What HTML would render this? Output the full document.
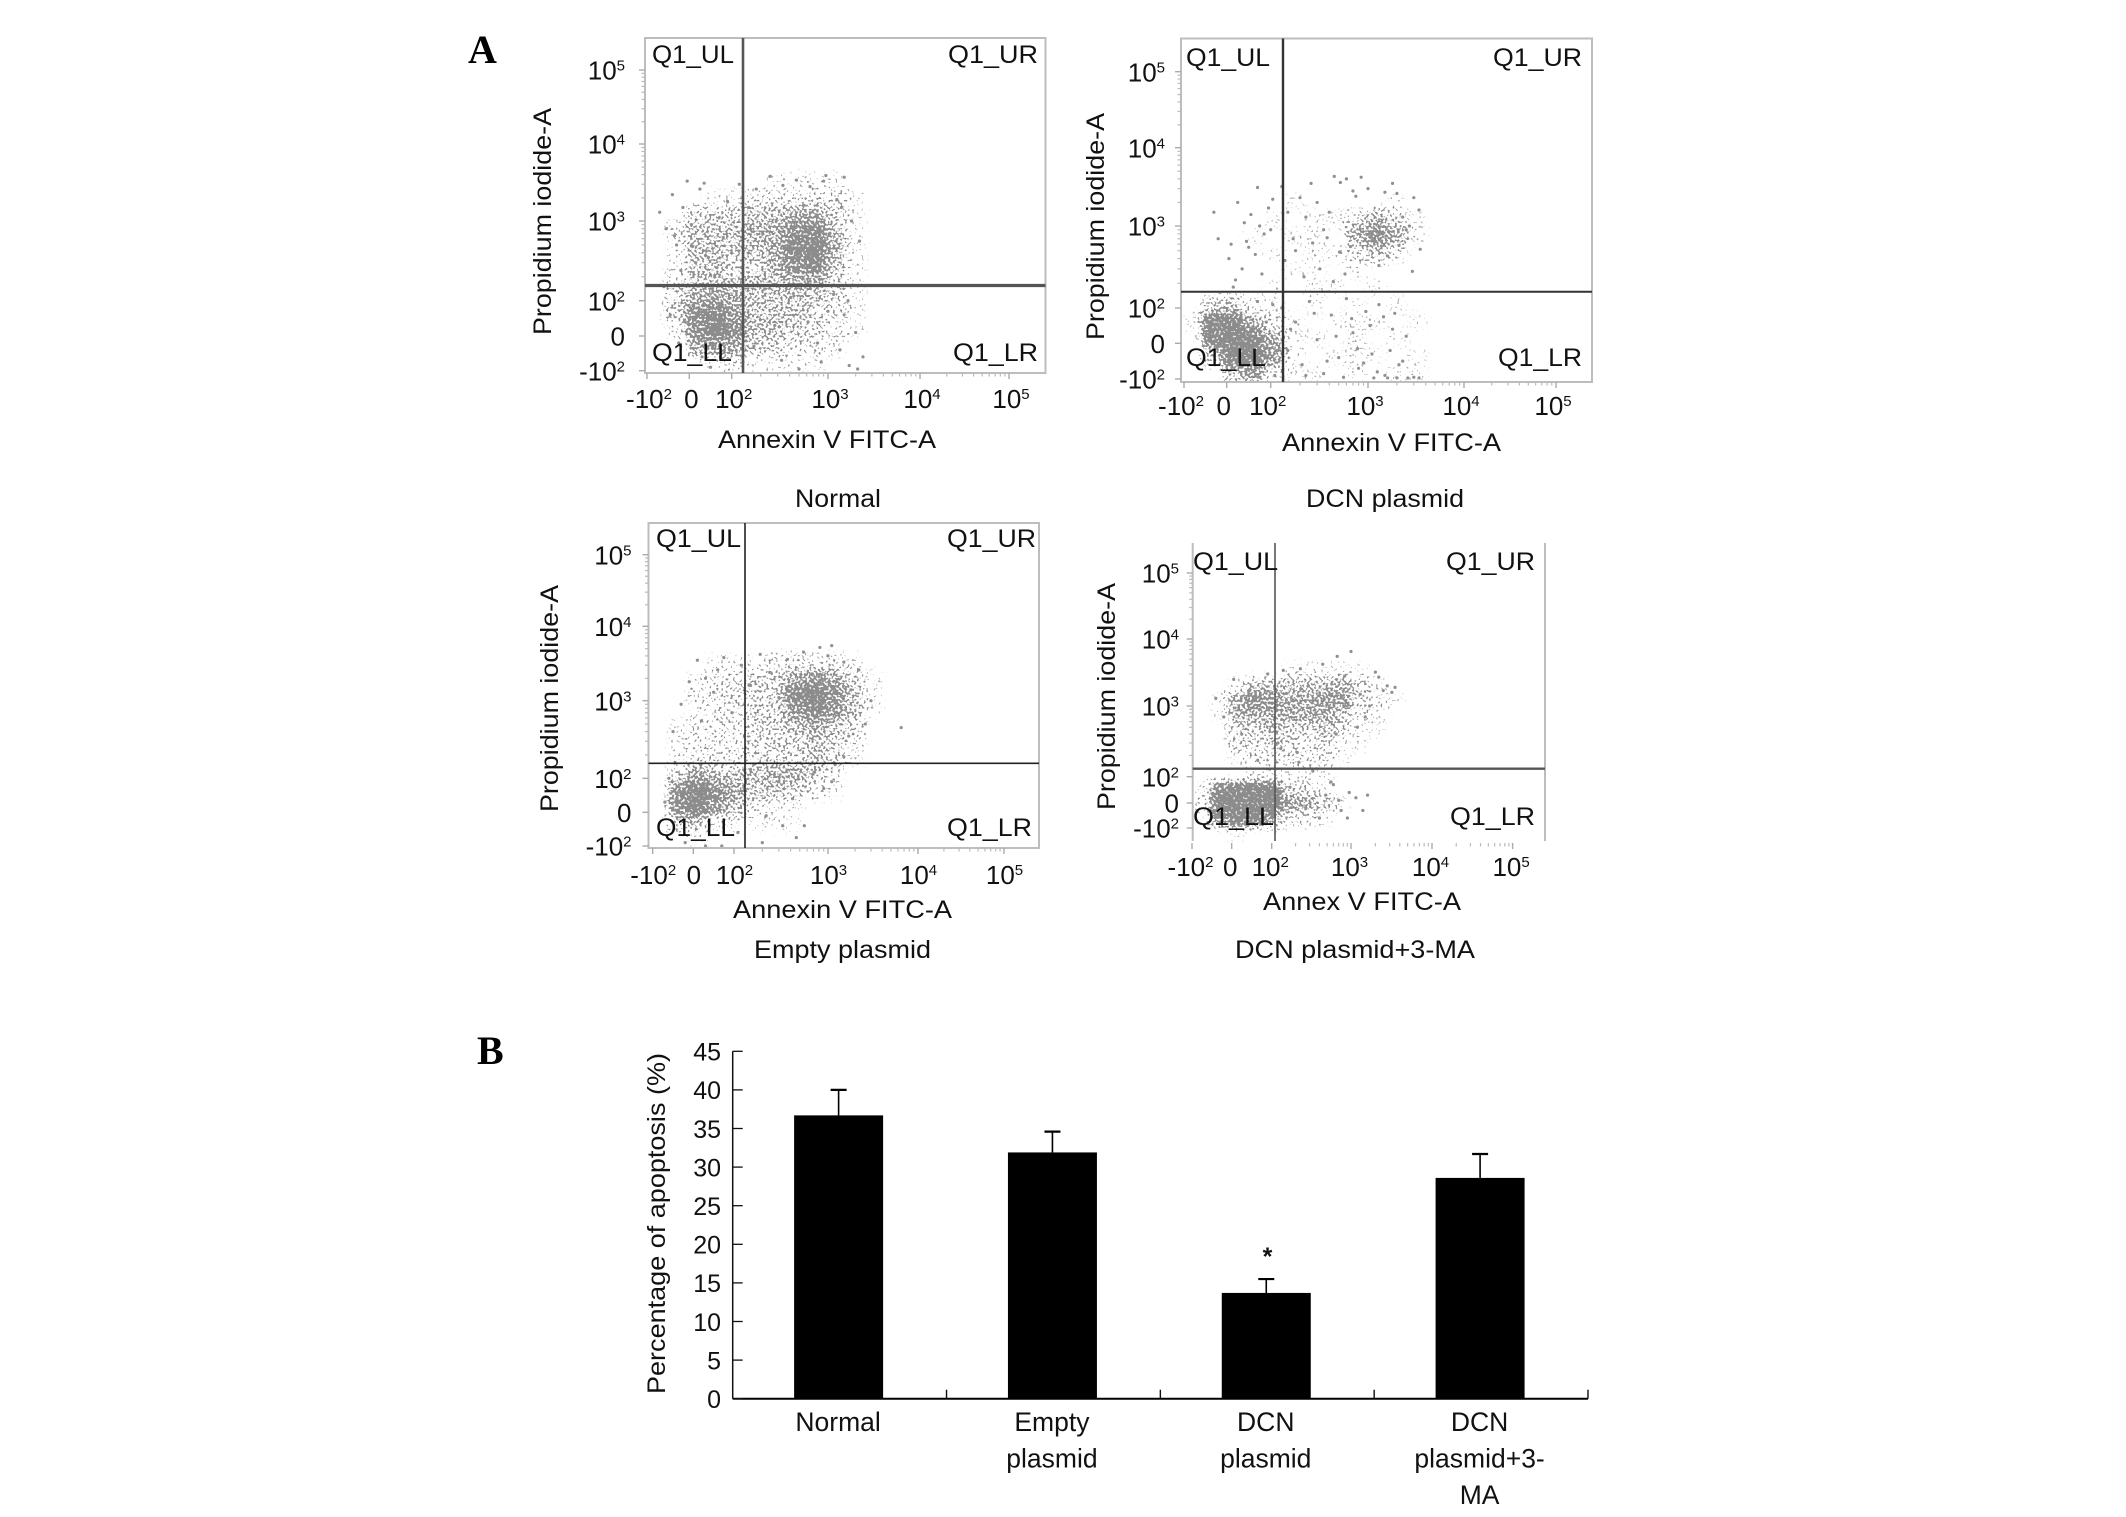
<!DOCTYPE html>
<html lang="en">
<head>
<meta charset="utf-8">
<title>Apoptosis flow cytometry and bar chart</title>
<style>
html,body{margin:0;padding:0;background:#fff;}
svg{display:block;}
text{font-family:"Liberation Sans",sans-serif;fill:#111;font-size:25px;}
.letter{font-family:"Liberation Serif",serif;font-weight:bold;font-size:40px;fill:#000;}
.heavy{font-weight:bold;}
</style>
</head>
<body>
<svg id="figure" xmlns="http://www.w3.org/2000/svg" width="2126" height="1517" viewBox="0 0 2126 1517">
<defs>
<filter id="soft" x="-5%" y="-5%" width="110%" height="110%" color-interpolation-filters="sRGB">
<feGaussianBlur in="SourceAlpha" stdDeviation="4.5" result="d"/>
<feTurbulence type="fractalNoise" baseFrequency="0.42" numOctaves="1" seed="7" result="t"/>
<feColorMatrix in="t" type="matrix" values="0 0 0 0 0  0 0 0 0 0  0 0 0 0 0  2.6 0 0 0 -0.8" result="n"/>
<feComposite in="d" in2="n" operator="arithmetic" k1="0" k2="5" k3="5" k4="-4.75" result="s"/>
<feFlood flood-color="#8c8c8c" result="f"/>
<feComposite in="f" in2="s" operator="in" result="dots"/>
<feComponentTransfer in="d" result="m"><feFuncA type="linear" slope="12"/></feComponentTransfer>
<feComposite in="dots" in2="m" operator="in"/>
</filter>
<clipPath id="clip-normal"><rect x="645" y="38" width="400" height="335"/></clipPath>
<clipPath id="clip-dcn"><rect x="1181" y="38" width="411" height="344"/></clipPath>
<clipPath id="clip-empty"><rect x="648" y="523" width="391" height="325"/></clipPath>
<clipPath id="clip-ma"><rect x="1193" y="543" width="352" height="299"/></clipPath>
</defs>
<rect width="2126" height="1517" fill="#fff"/>

<text class="letter" x="468" y="63">A</text>
<text class="letter" x="477" y="1064">B</text>

<g id="panel-normal"></g>
<g id="panel-dcn"></g>
<g id="panel-empty"></g>
<g id="panel-ma"></g>
<g id="bars"></g>

<!-- Normal labels -->
<text transform="translate(551,335) rotate(-90)" textLength="227" lengthAdjust="spacingAndGlyphs">Propidium iodide-A</text>
<text x="718" y="448" textLength="218" lengthAdjust="spacingAndGlyphs">Annexin V FITC-A</text>
<text x="795" y="507" textLength="86" lengthAdjust="spacingAndGlyphs">Normal</text>
<text x="652" y="63" textLength="82" lengthAdjust="spacingAndGlyphs">Q1_UL</text>
<text x="948" y="63" textLength="90" lengthAdjust="spacingAndGlyphs">Q1_UR</text>
<text x="652" y="361" textLength="80" lengthAdjust="spacingAndGlyphs">Q1_LL</text>
<text x="953" y="361" textLength="85" lengthAdjust="spacingAndGlyphs">Q1_LR</text>

<!-- DCN labels -->
<text transform="translate(1104,340) rotate(-90)" textLength="227" lengthAdjust="spacingAndGlyphs">Propidium iodide-A</text>
<text x="1282" y="451" textLength="219" lengthAdjust="spacingAndGlyphs">Annexin V FITC-A</text>
<text x="1306" y="507" textLength="158" lengthAdjust="spacingAndGlyphs">DCN plasmid</text>
<text x="1186" y="66" textLength="84" lengthAdjust="spacingAndGlyphs">Q1_UL</text>
<text x="1493" y="66" textLength="89" lengthAdjust="spacingAndGlyphs">Q1_UR</text>
<text x="1186" y="366" textLength="80" lengthAdjust="spacingAndGlyphs">Q1_LL</text>
<text x="1498" y="366" textLength="84" lengthAdjust="spacingAndGlyphs">Q1_LR</text>

<!-- Empty labels -->
<text transform="translate(558,812) rotate(-90)" textLength="227" lengthAdjust="spacingAndGlyphs">Propidium iodide-A</text>
<text x="733" y="918" textLength="219" lengthAdjust="spacingAndGlyphs">Annexin V FITC-A</text>
<text x="754" y="958" textLength="177" lengthAdjust="spacingAndGlyphs">Empty plasmid</text>
<text x="656" y="547" textLength="85" lengthAdjust="spacingAndGlyphs">Q1_UL</text>
<text x="947" y="547" textLength="89" lengthAdjust="spacingAndGlyphs">Q1_UR</text>
<text x="656" y="836" textLength="79" lengthAdjust="spacingAndGlyphs">Q1_LL</text>
<text x="947" y="836" textLength="85" lengthAdjust="spacingAndGlyphs">Q1_LR</text>

<!-- MA labels -->
<text transform="translate(1115,810) rotate(-90)" textLength="227" lengthAdjust="spacingAndGlyphs">Propidium iodide-A</text>
<text x="1263" y="910" textLength="198" lengthAdjust="spacingAndGlyphs">Annex V FITC-A</text>
<text x="1235" y="958" textLength="240" lengthAdjust="spacingAndGlyphs">DCN plasmid+3-MA</text>
<text x="1193" y="570" textLength="85" lengthAdjust="spacingAndGlyphs">Q1_UL</text>
<text x="1446" y="570" textLength="89" lengthAdjust="spacingAndGlyphs">Q1_UR</text>
<text x="1193" y="825" textLength="81" lengthAdjust="spacingAndGlyphs">Q1_LL</text>
<text x="1450" y="825" textLength="85" lengthAdjust="spacingAndGlyphs">Q1_LR</text>

<!-- Bar chart labels -->
<text transform="translate(665,1394) rotate(-90)" textLength="341" lengthAdjust="spacingAndGlyphs">Percentage of apoptosis (%)</text>
<text x="1267.5" y="1265" text-anchor="middle" font-weight="bold">*</text>
</svg>

<script>
// ---------- Flow cytometry data ----------
const axisTickValues = [-100, 0, 100, 1000, 10000, 100000];
const axisTickLabels = [["-10","2"],["0",""],["10","2"],["10","3"],["10","4"],["10","5"]];

// Event density per bin (0-9), 20 columns x 20 rows, top row first.
const normalDensity = [
"00000000000000000000","00000000000000000000","00000000000000000000","00000000000000000000",
"00000000000000000000","00000000000000000000","00000000000000000000","00000000000000000000",
"00000011110000000000",
"00011222221000000000",
"00333445531000000000",
"02444557841000000000",
"01444458951000000000",
"01443357841000000000",
"02444445531000000000",
"03565444431000000000",
"03786444321000000000",
"01797443321000000000",
"00565332210000000000",
"00012111100000000000"];
const dcnDensity = [
"00000000000000000000","00000000000000000000","00000000000000000000","00000000000000000000",
"00000000000000000000","00000000000000000000","00000000000000000000","00000000000000000000",
"00000000000000000000",
"00000100001000000000",
"00001011353100000000",
"00010110575100000000",
"00001011242000000000",
"00000110100000000000",
"00001011010000000000",
"03411010101000000000",
"19952101110100000000",
"08995110101000000000",
"03996101110100000000",
"00462110101100000000"];
const emptyDensity = [
"00000000000000000000","00000000000000000000","00000000000000000000","00000000000000000000",
"00000000000000000000","00000000000000000000","00000000000000000000","00000000000000000000",
"00011122221000000000",
"00122335653100000000",
"00223338974100000000",
"00122336864100000000",
"01222334543000000000",
"01222333432000000000",
"01222333431000000000",
"03644455420000000000",
"07975443210000000000",
"07964211000000000000",
"03411111000000000000",
"00100000000000000000"];
const maDensity = [
"00000000000000000000","00000000000000000000","00000000000000000000","00000000000000000000",
"00000000000000000000","00000000000000000000","00000000000000000000","00000000000000000000",
"00000111110000000000",
"00144444531000000000",
"01576556632100000000",
"01555555421000000000",
"00334334311000000000",
"00333323110000000000",
"00122222100000000000",
"00011111000000000000",
"18999331000000000000",
"29999654100000000000",
"07996221000000000000",
"00100000000000000000"];

// Individually visible events (annexin V value, propidium iodide value).
const normalEventsX = [-70,-55,-40,-30,-15,5,25,45,70,90,-60,-45,-25,-10,10,30,50,75,95,60,120,150,180,210,250,290,340,400,470,560,650,760,900,1050,1250,1500,1800,2200,950,1400,130,170,220,280,330,410,500,620,780,1000,1150,1350,1500,1700,2000,2400,1300,1650,2100,850,-20,15,40,65,-35,8,50,80,-5,35];
const normalEventsY = [1300,800,2200,500,1500,900,2600,350,1100,1800,150,60,-20,40,120,-60,-90,30,-40,200,3000,1500,2600,700,3800,1000,2900,450,3400,1600,2800,1200,3300,700,1900,3700,1000,560,3900,1500,90,-30,140,30,-70,110,-95,40,-20,70,120,-40,60,-85,10,-60,150,100,-95,-75,240,300,420,260,650,480,210,620,3300,3100];
const dcnEventsX = [-30,-20,10,25,40,55,70,85,95,105,5,20,35,50,65,80,100,15,45,75,130,150,170,200,230,260,300,350,400,450,140,180,220,270,320,380,440,510,580,660,520,600,700,850,1000,1200,1500,1800,2100,2500,2300,2700,3000,3400,2000,1600,3500,750,2900,1300,130,150,180,210,250,300,350,420,500,600,700,800,950,1100,1300,1500,1800,2100,2500,3000,160,230,280,380,470,560,680,780,900,1050,1250,1450,1700,2000,2300,1150,1600,1900,2600,3400,60,75,90,105,115,85,95,110,70,100];
const dcnEventsY = [1500,700,600,2000,1100,1400,3100,800,1700,2200,400,220,300,550,450,260,900,180,650,1000,3200,1500,700,2300,1300,3500,2000,900,1500,4300,380,500,240,620,300,720,210,480,260,560,3600,4000,2800,4200,3000,650,2700,3500,580,900,1300,1000,2300,1600,2600,430,520,2400,280,330,100,-20,60,-60,120,10,-85,80,-40,130,30,-70,90,-30,110,-90,40,-60,20,-95,40,-90,85,-50,20,-95,70,-15,-55,50,-80,75,-20,-97,-50,-97,-97,85,-97,-97,-80,-95,60,110,-20,20,-60,-90,120,0];
const emptyEventsX = [-50,-30,-10,10,30,50,75,95,60,20,120,150,190,240,300,370,450,550,680,820,1000,1250,1500,1800,2200,2600,3000,6500,1100,1700,150,220,300,420,560,720,900,1200,1500,1100,110,200,330,460,-60,-70,-45,-20,70,30];
const emptyEventsY = [400,900,1800,3500,2000,1300,3800,700,2600,550,3000,1600,4200,2400,1100,3600,600,4500,2300,5200,4000,700,3300,1400,2600,500,1000,450,5500,350,130,-10,90,40,-40,120,70,150,190,90,-60,-90,-40,-75,100,30,160,-90,-100,-105];
const maEventsX = [-40,-20,5,25,45,70,90,110,140,180,230,290,360,440,540,670,830,1000,1300,1700,2200,2800,3500,3200,1500,1200,2500,2000,850,650,130,170,220,270,330,400,480,600,750,950,1150,1400,1600,900,700,560,65,120,210,40];
const maEventsY = [1300,700,2500,400,1700,900,3000,500,3400,1200,3600,2000,800,4200,1500,5500,2800,6500,1500,1000,2700,2000,1900,1600,700,500,1700,3200,1000,400,250,60,160,-20,120,-60,30,70,-30,40,20,-30,30,-60,10,80,170,300,220,-90];

// ---------- Bar chart data ----------
const barCategories = [["Normal"],["Empty","plasmid"],["DCN","plasmid"],["DCN","plasmid+3-","MA"]];
const barValues = [36.7, 31.9, 13.7, 28.6];
const barErrors = [3.3, 2.7, 1.8, 3.1];
const barTicks = [0,5,10,15,20,25,30,35,40,45];

// ---------- Layout ----------
const NS = "http://www.w3.org/2000/svg";
function make(tag, attrs, parent){
  const el = document.createElementNS(NS, tag);
  for (const k in attrs) el.setAttribute(k, attrs[k]);
  parent.appendChild(el);
  return el;
}
function transformValue(v){
  if (v <= 100) return v / 100 + 1;
  return Math.log10(v / 100) + 2;
}
function axisMap(stops){
  return function(v){
    const t = Math.max(0, Math.min(5.6, transformValue(v)));
    const i = Math.min(4, Math.floor(t));
    return stops[i] + (stops[i + 1] - stops[i]) * (t - i);
  };
}
const panels = [
 {id:"panel-normal", key:"normal", clip:"clip-normal", density:normalDensity, ex:normalEventsX, ey:normalEventsY,
  left:645, right:1045.5, top:38, bottom:373, xStops:[647,689.3,731.7,828,920,1009], yStops:[370.7,336,300.7,221,144,70],
  gateX:743, gateY:285.5, gateXW:2.6, gateYW:3.2, gateColor:"#555", xLabelY:408, xLabelShift:2, yLabelRight:625, frame:true},
 {id:"panel-dcn", key:"dcn", clip:"clip-dcn", density:dcnDensity, ex:dcnEventsX, ey:dcnEventsY,
  left:1181, right:1592, top:38.5, bottom:382, xStops:[1184,1226.7,1270.7,1368,1464,1556], yStops:[379,343.3,308,226,147.7,71.7],
  gateX:1283, gateY:291.7, gateXW:2.4, gateYW:2, gateColor:"#333", xLabelY:415, xLabelShift:-3, yLabelRight:1165, frame:true},
 {id:"panel-empty", key:"empty", clip:"clip-empty", density:emptyDensity, ex:emptyEventsX, ey:emptyEventsY,
  left:648.5, right:1039, top:523, bottom:848, xStops:[652.7,693.3,734,828,918,1004], yStops:[846,812.3,778.3,700.7,626.3,554.7],
  gateX:745, gateY:763.3, gateXW:1.6, gateYW:1.6, gateColor:"#222", xLabelY:884, xLabelShift:0.5, yLabelRight:631.5, frame:true},
 {id:"panel-ma", key:"ma", clip:"clip-ma", density:maDensity, ex:maEventsX, ey:maEventsY,
  left:1192.7, right:1545, top:543, bottom:841, xStops:[1192,1231.7,1271.7,1351,1432,1512.6], yStops:[828,803,776.7,706,639,573],
  gateX:1275, gateY:768.7, gateXW:1.6, gateYW:2.4, gateColor:"#555", xLabelY:876, xLabelShift:-1.5, yLabelRight:1179, frame:false}
];
const minorMultiples = [2,3,4,5,6,7,8,9];

panels.forEach(function(p){
  const g = document.getElementById(p.id);
  const sx = axisMap(p.xStops);
  const sy = axisMap(p.yStops);

  // density heatmap
  const clipG = make("g", {"clip-path":"url(#" + p.clip + ")"}, g);
  
  
  const blurG = make("g", {filter:"url(#soft)"}, clipG);
  const cw = (p.right - p.left) / 20, ch = (p.bottom - p.top) / 20;
  p.density.forEach(function(row, r){
    row.split("").forEach(function(d, c){
      const level = Number(d);
      if (!level) return;
      const cell = make("rect", {x:p.left + c * cw, y:p.top + r * ch, width:cw, height:ch, fill:"#000", "fill-opacity":(level / 9).toFixed(3), "shape-rendering":"crispEdges"}, blurG);
      
      
    });
  });

  // individual events
  p.ex.forEach(function(xv, i){
    const dot = make("circle", {cx:sx(xv), cy:sy(p.ey[i]), r:1.6, fill:"#909090"}, clipG);
    
    
  });

  // frame
  if (p.frame){
    const fr = make("rect", {x:p.left, y:p.top, width:p.right - p.left, height:p.bottom - p.top, fill:"none", stroke:"#bdbdbd", "stroke-width":2}, g);
    
    
  } else {
    const fl = make("line", {x1:p.left, x2:p.left, y1:p.top, y2:p.bottom, stroke:"#bdbdbd", "stroke-width":2}, g);
    
    
    const fr2 = make("line", {x1:p.right, x2:p.right, y1:p.top, y2:p.bottom, stroke:"#bdbdbd", "stroke-width":2}, g);
    
    
  }

  // ticks
  const tickBase = p.frame ? p.bottom : p.bottom + 2;
  axisTickValues.forEach(function(v, i){
    const xt = make("line", {x1:sx(v), x2:sx(v), y1:tickBase, y2:tickBase + 6, stroke:"#aaa", "stroke-width":1.4}, g);
    
    
    const yt = make("line", {x1:p.left - 6, x2:p.left, y1:sy(v), y2:sy(v), stroke:"#aaa", "stroke-width":1.4}, g);
    
    

    const lab = axisTickLabels[i];
    const tx = make("text", {x:sx(v) + p.xLabelShift, y:p.xLabelY, "text-anchor":"middle"}, g);
    
    
    tx.style.fontSize = "26px";
    tx.appendChild(document.createTextNode(lab[0]));
    const ty = make("text", {x:p.yLabelRight, y:sy(v) + 9.7, "text-anchor":"end"}, g);
    
    
    ty.style.fontSize = "26px";
    ty.appendChild(document.createTextNode(lab[0]));
    if (lab[1]){
      const s1 = make("tspan", {dy:-9}, tx);
      s1.style.fontSize = "15px";
      s1.textContent = lab[1];
      const s2 = make("tspan", {dy:-9}, ty);
      s2.style.fontSize = "15px";
      s2.textContent = lab[1];
    }
  });
  [100, 1000, 10000].forEach(function(decade){
    minorMultiples.forEach(function(m){
      const v = decade * m;
      const xm = make("line", {x1:sx(v), x2:sx(v), y1:tickBase, y2:tickBase + 3.5, stroke:"#bbb", "stroke-width":1.2}, g);
      
      
      const ym = make("line", {x1:p.left - 3.5, x2:p.left, y1:sy(v), y2:sy(v), stroke:"#bbb", "stroke-width":1.2}, g);
      
      
    });
  });

  // quadrant gates
  const gv = make("line", {x1:p.gateX, x2:p.gateX, y1:p.top, y2:p.bottom, stroke:p.gateColor, "stroke-width":p.gateXW}, g);
  
  
  const gh = make("line", {x1:p.left, x2:p.right, y1:p.gateY, y2:p.gateY, stroke:p.gateColor, "stroke-width":p.gateYW}, g);
  
  
});

// ---------- Bar chart ----------
(function(){
  const g = document.getElementById("bars");
  const x0 = 732.7, x1 = 1588, y0 = 1398.7, unit = 7.72, barW = 89;
  const yScale = function(v){ return y0 - v * unit; };
  const band = (x1 - x0) / barCategories.length;
  const center = function(i){ return x0 + band * (i + 0.5) - 1; };

  barValues.forEach(function(v, i){
    const c = center(i);
    const err = make("line", {x1:c, x2:c, y1:yScale(v), y2:yScale(v + barErrors[i]), stroke:"#000", "stroke-width":1.6}, g);
    
    
    const cap = make("line", {x1:c - 8, x2:c + 8, y1:yScale(v + barErrors[i]), y2:yScale(v + barErrors[i]), stroke:"#000", "stroke-width":2.2}, g);
    
    
    const bar = make("rect", {x:c - barW / 2, y:yScale(v), width:barW, height:y0 - yScale(v), fill:"#000"}, g);
    
    
    const sep = make("line", {x1:x0 + band * (i + 1), x2:x0 + band * (i + 1), y1:y0, y2:y0 - 9, stroke:"#111", "stroke-width":1.4}, g);
    
    
    barCategories[i].forEach(function(line, k){
      const t = make("text", {x:c - 0.5, y:1431 + k * 36.5, "text-anchor":"middle"}, g);
      
      
      t.style.fontSize = "26.5px";
      t.textContent = line;
    });
  });

  const yAxis = make("line", {x1:x0, x2:x0, y1:yScale(45), y2:y0, stroke:"#111", "stroke-width":1.5}, g);
  
  
  const xAxis = make("line", {x1:x0, x2:x1, y1:y0, y2:y0, stroke:"#000", "stroke-width":2}, g);
  
  
  barTicks.forEach(function(v){
    const tk = make("line", {x1:x0, x2:x0 + 10, y1:yScale(v), y2:yScale(v), stroke:"#111", "stroke-width":1.3}, g);
    
    
    const tl = make("text", {x:721, y:yScale(v) + 9.3, "text-anchor":"end"}, g);
    
    
    tl.textContent = String(v);
  });
})();
</script>
</body>
</html>
